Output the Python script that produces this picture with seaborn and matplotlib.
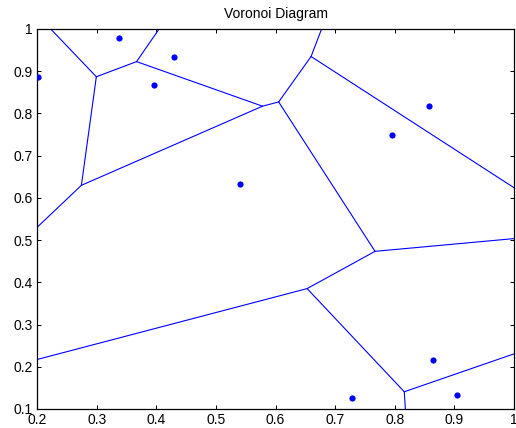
import numpy as np
import pandas as pd
import matplotlib
matplotlib.use("Agg")
import matplotlib.pyplot as plt
import matplotlib.tri as mtri
import seaborn as sns

# Generator points
x_pts = [0.201, 0.337, 0.396, 0.429, 0.541, 0.795, 0.858, 0.729, 0.864, 0.904]
y_pts = [0.886, 0.978, 0.867, 0.933, 0.632, 0.748, 0.817, 0.125, 0.215, 0.133]

x_ticks = [0.2, 0.3, 0.4, 0.5, 0.6, 0.7, 0.8, 0.9, 1.0]
x_tick_labels = ["0.2", "0.3", "0.4", "0.5", "0.6", "0.7", "0.8", "0.9", "1"]
y_ticks = [0.1, 0.2, 0.3, 0.4, 0.5, 0.6, 0.7, 0.8, 0.9, 1.0]
y_tick_labels = ["0.1", "0.2", "0.3", "0.4", "0.5", "0.6", "0.7", "0.8", "0.9", "1"]
title = "Voronoi Diagram"

# ---- Voronoi edges computed from the Delaunay triangulation ----
P = np.column_stack([x_pts, y_pts])
tri = mtri.Triangulation(P[:, 0], P[:, 1])
T = tri.triangles
nbrs = tri.neighbors


def circumcenter(a, b, c):
    d = 2 * (a[0] * (b[1] - c[1]) + b[0] * (c[1] - a[1]) + c[0] * (a[1] - b[1]))
    ux = ((a @ a) * (b[1] - c[1]) + (b @ b) * (c[1] - a[1]) + (c @ c) * (a[1] - b[1])) / d
    uy = ((a @ a) * (c[0] - b[0]) + (b @ b) * (a[0] - c[0]) + (c @ c) * (b[0] - a[0])) / d
    return np.array([ux, uy])


centers = np.array([circumcenter(*P[t]) for t in T])
centroid = P.mean(axis=0)
rows = []
seg = 0
for i, t in enumerate(T):
    for j in range(3):
        n = nbrs[i, j]
        if n > i:
            p0, p1 = centers[i], centers[n]
        elif n == -1:
            pa, pb = P[t[j]], P[t[(j + 1) % 3]]
            tang = (pb - pa) / np.linalg.norm(pb - pa)
            normal = np.array([-tang[1], tang[0]])
            mid = (pa + pb) / 2
            direction = np.sign((mid - centroid) @ normal) * normal
            p0, p1 = centers[i], centers[i] + direction * 5
        else:
            continue
        rows.append((seg, p0[0], p0[1]))
        rows.append((seg, p1[0], p1[1]))
        seg += 1
edges = pd.DataFrame(rows, columns=["seg", "x", "y"])
pts = pd.DataFrame({"x": x_pts, "y": y_pts})

# ---- Plot ----
sns.set_style("ticks")
plt.rcParams["font.family"] = ["Liberation Sans", "DejaVu Sans"]
plt.rcParams["axes.edgecolor"] = "black"
plt.rcParams["axes.linewidth"] = 0.9

fig = plt.figure(figsize=(5.16, 4.28), dpi=100)
ax = fig.add_axes([37 / 516, 1 - 409 / 428, (514 - 37) / 516, (409 - 29) / 428])

sns.lineplot(data=edges, x="x", y="y", units="seg", estimator=None, sort=False,
             color="#0000ff", linewidth=0.8, ax=ax, legend=False)
sns.scatterplot(data=pts, x="x", y="y", color="#0000ff", s=20, linewidth=0,
                ax=ax, legend=False, zorder=3)

ax.set_xlim(0.2, 1.0)
ax.set_ylim(0.1, 1.0)
ax.set_xticks(x_ticks)
ax.set_xticklabels(x_tick_labels)
ax.set_yticks(y_ticks)
ax.set_yticklabels(y_tick_labels)
ax.set_xlabel("")
ax.set_ylabel("")
ax.tick_params(direction="in", length=3, width=0.7, labelsize=10, colors="black",
               top=True, right=True, pad=3)
for s in ax.spines.values():
    s.set_visible(True)
    s.set_color("black")
ax.set_title(title, fontsize=10, pad=8, color="black")

fig.savefig("out.png", dpi=100)
